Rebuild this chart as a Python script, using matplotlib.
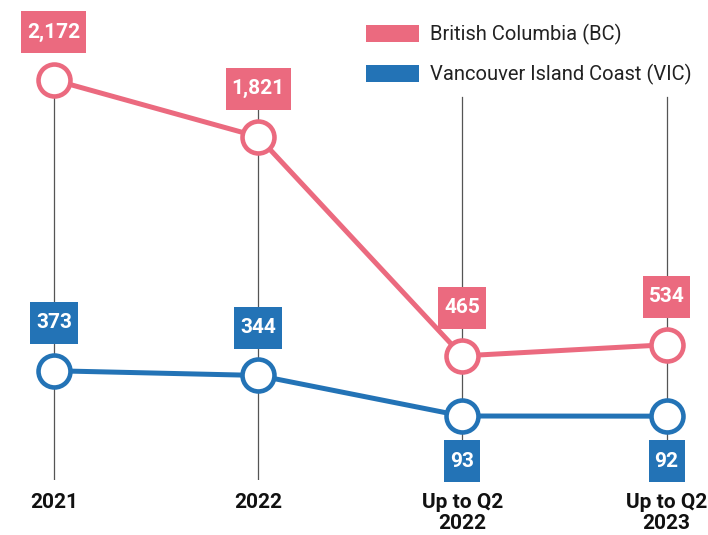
import matplotlib.pyplot as plt
from matplotlib.patches import Patch
from matplotlib.path import Path

# datos
periodos = ["2021", "2022", "Up to Q2\n2022", "Up to Q2\n2023"]
bc = [2172, 1821, 465, 534]
vic = [373, 344, 93, 92]
vic_abajo = [False, False, True, True]  # etiqueta debajo del punto

rosa = "#EB6A7F"
azul = "#2373B6"

plt.rcParams["font.family"] = ["Roboto", "DejaVu Sans"]


def caja(x0, y0, width, height, mutation_size):
  # caja de alto fijo (42 px) con 6 px de margen lateral
  cx = x0 + width / 2
  cy = y0 + height / 2
  w = width / 2 + 6
  h = 21
  return Path([(cx - w, cy - h), (cx + w, cy - h), (cx + w, cy + h),
               (cx - w, cy + h), (cx - w, cy - h)], closed=True)


fig = plt.figure(figsize=(7.08, 5.35), dpi=100)
ax = fig.add_axes([0, 55 / 535, 1, 480 / 535])
ax.set_xlim(-0.264, 3.203)
ax.set_ylim(-303, 2667)
for s in ax.spines.values():
  s.set_visible(False)
ax.set_yticks([])

xs = list(range(len(periodos)))

# lineas verticales de guia
for x in xs:
  ax.axvline(x, ymin=0, ymax=0.798, color="#555555", lw=0.9, zorder=1)

for valores, color in [(bc, rosa), (vic, azul)]:
  ax.plot(xs, valores, color=color, lw=3.6, marker="o", markersize=23,
          markerfacecolor="white", markeredgecolor=color,
          markeredgewidth=3.3, zorder=3)

# etiquetas de valores
for x, v in zip(xs, bc):
  ax.annotate(f"{v:,}", (x, v), xytext=(0, 34.5), textcoords="offset points",
              ha="center", va="center", color="white", fontsize=15,
              fontweight="bold", zorder=5,
              bbox=dict(boxstyle=caja, fc=rosa, ec="none"))
for x, v, abajo in zip(xs, vic, vic_abajo):
  dy = -32.5 if abajo else 34.5
  ax.annotate(f"{v:,}", (x, v), xytext=(0, dy), textcoords="offset points",
              ha="center", va="center", color="white", fontsize=15,
              fontweight="bold", zorder=5,
              bbox=dict(boxstyle=caja, fc=azul, ec="none"))

ax.set_xticks(xs)
ax.set_xticklabels(periodos, fontsize=15, fontweight="bold", color="#111111")
ax.tick_params(axis="x", length=0, pad=9)
for t in ax.get_xticklabels():
  t.set_linespacing(1.18)

handles = [Patch(facecolor=rosa, label="British Columbia (BC)"),
           Patch(facecolor=azul, label="Vancouver Island Coast (VIC)")]
fig.legend(handles=handles, loc="upper left",
           bbox_to_anchor=(366 / 708, 1 - 24 / 535), frameon=False,
           fontsize=14.5, handlelength=2.64, handleheight=0.95,
           handletextpad=0.55, labelspacing=0.95, borderpad=0,
           borderaxespad=0, labelcolor="#222222")

fig.savefig("out.png", dpi=100)
